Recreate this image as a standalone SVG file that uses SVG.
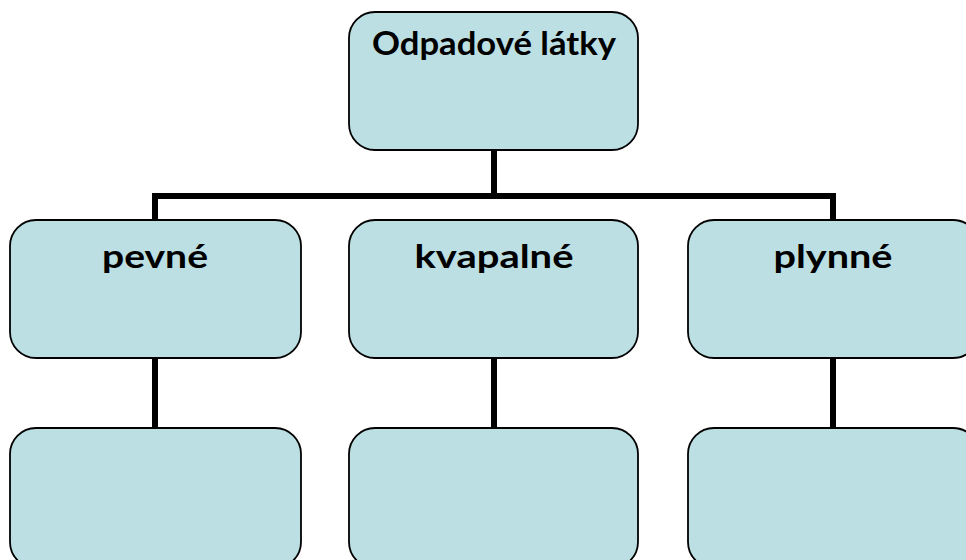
<svg xmlns="http://www.w3.org/2000/svg" width="966" height="560" viewBox="0 0 966 560">
<style>
.box{fill:#bbdfe2;stroke:#000;stroke-width:1.8}
.lbl{font-family:Lato,"Open Sans","Liberation Sans",sans-serif;font-weight:bold;font-size:32px;fill:#000;text-anchor:middle}
.con{fill:none;stroke:#000;stroke-width:6}
</style>
<rect width="966" height="560" fill="#fff"/>
<g id="connectors">
<path class="con" d="M494 150 V196 M155 220 V196 H833 V220"/>
<path class="con" d="M155 358 V428 M494 358 V428 M833 358 V428"/>
</g>
<g id="root"><rect class="box" x="349" y="12" width="289" height="138" rx="26"/><text class="lbl" x="494" y="55" textLength="244" lengthAdjust="spacingAndGlyphs">Odpadové látky</text></g>
<g id="pevne"><rect class="box" x="10" y="220" width="291" height="138" rx="26"/><text class="lbl" x="155" y="268" textLength="106" lengthAdjust="spacingAndGlyphs">pevné</text></g>
<g id="kvapalne"><rect class="box" x="349" y="220" width="289" height="138" rx="26"/><text class="lbl" x="494" y="268" textLength="159" lengthAdjust="spacingAndGlyphs">kvapalné</text></g>
<g id="plynne"><rect class="box" x="688" y="220" width="291" height="138" rx="26"/><text class="lbl" x="833" y="268" textLength="119" lengthAdjust="spacingAndGlyphs">plynné</text></g>
<g id="pevne-child"><rect class="box" x="10" y="428" width="291" height="140" rx="26"/></g>
<g id="kvapalne-child"><rect class="box" x="349" y="428" width="289" height="140" rx="26"/></g>
<g id="plynne-child"><rect class="box" x="688" y="428" width="291" height="140" rx="26"/></g>
</svg>
